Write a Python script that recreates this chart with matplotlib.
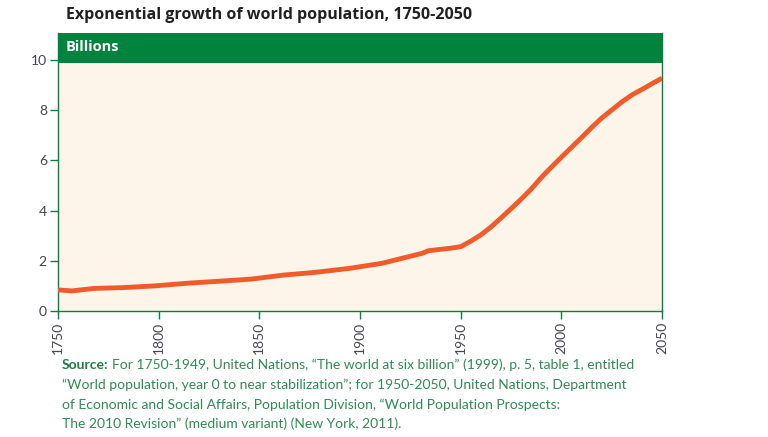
import matplotlib
matplotlib.use("Agg")
import matplotlib.pyplot as plt

years = [1750, 1757, 1768, 1782, 1798, 1815, 1831, 1846, 1862, 1878, 1895, 1911, 1923, 1931, 1934,
         1945, 1950, 1955, 1960, 1965, 1970, 1975, 1980, 1985, 1990, 1995, 2000, 2005, 2010,
         2015, 2020, 2025, 2030, 2035, 2040, 2045, 2050]
population = [0.84, 0.80, 0.90, 0.93, 1.00, 1.11, 1.19, 1.27, 1.43, 1.54, 1.70, 1.90, 2.14, 2.30, 2.40,
              2.50, 2.56, 2.78, 3.03, 3.34, 3.70, 4.07, 4.45, 4.85, 5.31, 5.72, 6.12, 6.51, 6.90,
              7.30, 7.68, 8.00, 8.32, 8.60, 8.82, 9.05, 9.27]
xticks = [1750, 1800, 1850, 1900, 1950, 2000, 2050]
yticks = [0, 2, 4, 6, 8, 10]

GREEN = "#00843d"
BG = "#fdf5ea"
LINE = "#f15a29"
FONT = ["Open Sans", "DejaVu Sans"]
SFONT = ["Lato", "DejaVu Sans"]

fig = plt.figure(figsize=(7.68, 4.37), dpi=100)
ax = fig.add_axes([58/768, 1-311/437, (662-58)/768, (311-33)/437])
ymax = 11.07
ax.set_facecolor(BG)
ax.axhspan(9.88, ymax, color=GREEN, zorder=1, lw=0)
ax.plot(years, population, color=LINE, lw=3.5, zorder=3, solid_capstyle="butt")
ax.set_xlim(1750, 2050)
ax.set_ylim(0, ymax)
ax.set_xticks(xticks)
ax.set_yticks(yticks)
ax.set_xticklabels([str(x) for x in xticks], rotation=90, family=SFONT, fontsize=10, color="#44444f")
ax.set_yticklabels([str(y) for y in yticks], family=SFONT, fontsize=10, color="#44444f")
ax.tick_params(axis="both", color=GREEN, length=6, width=1, direction="out", pad=2)
for s in ["left", "bottom", "right"]:
    ax.spines[s].set_color(GREEN)
    ax.spines[s].set_linewidth(1)
ax.spines["top"].set_visible(False)

ax.text(1754, 10.5, "Billions", color="white", fontsize=10.5, fontweight="bold",
        family=FONT, va="center", ha="left", zorder=4)

fig.text(66/768, 1-15/437, "Exponential growth of world population, 1750-2050",
         fontsize=11.5, fontweight="bold", family=FONT, color="#231f20", va="center", ha="left")

src_color = "#2f8a55"
lines = [
    "For 1750-1949, United Nations, \u201cThe world at six billion\u201d (1999), p. 5, table 1, entitled",
    "\u201cWorld population, year 0 to near stabilization\u201d; for 1950-2050, United Nations, Department",
    "of Economic and Social Affairs, Population Division, \u201cWorld Population Prospects:",
    "The 2010 Revision\u201d (medium variant) (New York, 2011).",
]
ys = [365, 385, 405, 424]
t = fig.text(62/768, 1-ys[0]/437, "Source:", fontsize=10, fontweight="bold", family=SFONT,
             color="#1f7a45", va="center", ha="left")
fig.canvas.draw()
bb = t.get_window_extent()
fig.text((bb.x1 + 3)/768, 1-ys[0]/437, lines[0], fontsize=10, family=SFONT,
         color=src_color, va="center", ha="left")
for ln, y in zip(lines[1:], ys[1:]):
    fig.text(62/768, 1-y/437, ln, fontsize=10, family=SFONT, color=src_color, va="center", ha="left")

fig.savefig("out.png", dpi=100)
